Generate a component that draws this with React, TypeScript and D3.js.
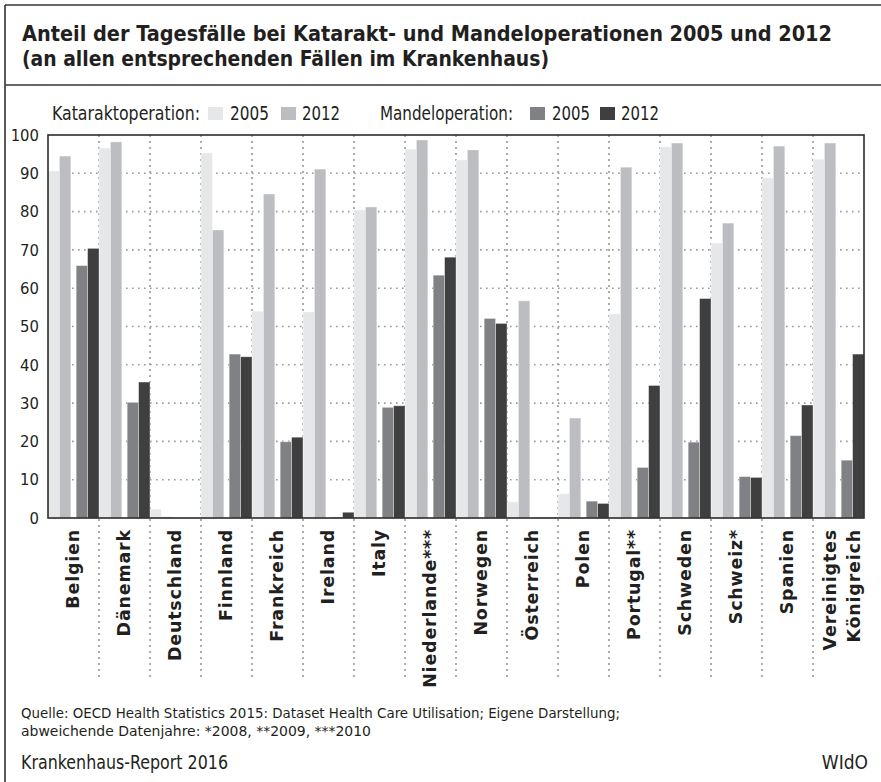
import React from "react";
import * as d3 from "d3";

const W = 881;
const H = 782;

const categories = [
  "Belgien", "Dänemark", "Deutschland", "Finnland", "Frankreich", "Ireland", "Italy",
  "Niederlande***", "Norwegen", "Österreich", "Polen", "Portugal**", "Schweden",
  "Schweiz*", "Spanien", "Vereinigtes Königreich",
];
const kat2005 = [90.6, 96.6, 2.3, 95.3, 54.0, 53.8, 80.4, 96.3, 93.5, 4.2, 6.3, 53.3, 96.9, 71.8, 88.8, 93.7];
const kat2012 = [94.5, 98.2, 0.3, 75.2, 84.6, 91.1, 81.2, 98.7, 96.1, 56.7, 26.1, 91.6, 97.9, 77.0, 97.1, 97.9];
const mandel2005 = [65.9, 30.2, 0, 42.8, 19.9, 0.2, 28.9, 63.4, 52.1, 0.1, 4.4, 13.2, 19.8, 10.8, 21.5, 15.1];
const mandel2012 = [70.4, 35.5, 0, 42.1, 21.1, 1.5, 29.3, 68.1, 50.8, 0.1, 3.8, 34.6, 57.3, 10.6, 29.5, 42.8];
const groups = ["Kataraktoperation", "Mandeloperation"];
const years = ["2005", "2012"];
const yTicks = [0, 10, 20, 30, 40, 50, 60, 70, 80, 90, 100];

const titleLines = [
  "Anteil der Tagesfälle bei Katarakt- und Mandeloperationen 2005 und 2012",
  "(an allen entsprechenden Fällen im Krankenhaus)",
];
const sourceLines = [
  "Quelle: OECD Health Statistics 2015: Dataset Health Care Utilisation; Eigene Darstellung;",
  "abweichende Datenjahre: *2008, **2009, ***2010",
];
const footerLeft = "Krankenhaus-Report 2016";
const footerRight = "WIdO";

const series = [
  { group: groups[0], year: years[0], values: kat2005, color: "#e6e7e8" },
  { group: groups[0], year: years[1], values: kat2012, color: "#bcbdc0" },
  { group: groups[1], year: years[0], values: mandel2005, color: "#808184" },
  { group: groups[1], year: years[1], values: mandel2012, color: "#3f3f3f" },
];

const COND = "'DejaVu Sans Condensed', 'Liberation Sans Narrow', 'DejaVu Sans', sans-serif";
const BOLD = "'DejaVu Sans', 'Open Sans', sans-serif";

export default function App() {
  const plot = { left: 48, right: 864, top: 135, bottom: 518 };
  const x = d3.scaleBand<string>().domain(categories).range([plot.left, plot.right]).padding(0);
  const xg = d3.scaleBand<string>().domain(groups).range([0, x.bandwidth()]).paddingInner(0.19).paddingOuter(0).align(0.65);
  const xy = d3.scaleBand<string>().domain(years).range([0, xg.bandwidth()]).padding(0);
  const y = d3.scaleLinear().domain([0, 100]).range([plot.bottom, plot.top]);

  const legendItems = [
    { type: "text", x: 52, text: "Kataraktoperation:", len: 148 },
    { type: "box", x: 208, color: series[0].color },
    { type: "text", x: 230, text: "2005", len: 39 },
    { type: "box", x: 281, color: series[1].color },
    { type: "text", x: 302, text: "2012", len: 38 },
    { type: "text", x: 380, text: "Mandeloperation:", len: 133 },
    { type: "box", x: 530, color: series[2].color },
    { type: "text", x: 552, text: "2005", len: 38 },
    { type: "box", x: 600, color: series[3].color },
    { type: "text", x: 621, text: "2012", len: 38 },
  ];

  return (
    <svg
      width={W}
      height={H}
      viewBox={`0 0 ${W} ${H}`}
      style={{ position: "absolute", left: 0, top: 0, background: "#fff" }}
    >
      <rect x={0} y={0} width={W} height={H} fill="#fff" />
      {/* outer frame */}
      <line x1={5} y1={5} x2={W} y2={5} stroke="#333" strokeWidth={1.6} />
      <line x1={5} y1={5} x2={5} y2={H} stroke="#333" strokeWidth={1.6} />
      <line x1={5} y1={85} x2={W} y2={85} stroke="#333" strokeWidth={1.6} />

      {/* title */}
      <g fontFamily={COND} fontWeight="bold" fontSize={21} fill="#231f20" style={{ fontStretch: "condensed" }}>
        <text x={22} y={41} textLength={810} lengthAdjust="spacingAndGlyphs">{titleLines[0]}</text>
        <text x={22} y={66} textLength={527} lengthAdjust="spacingAndGlyphs">{titleLines[1]}</text>
      </g>

      {/* legend */}
      <g fontFamily={COND} fontSize={19} fill="#231f20" style={{ fontStretch: "condensed" }}>
        {legendItems.map((it, i) =>
          it.type === "box" ? (
            <rect key={i} x={it.x} y={107} width={15} height={13} fill={it.color} />
          ) : (
            <text key={i} x={it.x} y={120} textLength={it.len} lengthAdjust="spacingAndGlyphs">{it.text}</text>
          )
        )}
      </g>

      {/* horizontal grid */}
      <g stroke="#9a9a9a" strokeWidth={1.6} strokeDasharray="1.6,4.4">
        {yTicks.filter((t) => t > 0 && t < 100).map((t) => (
          <line key={t} x1={plot.left} x2={plot.right} y1={y(t)} y2={y(t)} />
        ))}
      </g>
      {/* vertical dotted separators */}
      <g stroke="#9a9a9a" strokeWidth={1.6} strokeDasharray="2,4">
        {categories.slice(1).map((c) => (
          <line key={c} x1={x(c)!} x2={x(c)!} y1={plot.top} y2={677} />
        ))}
      </g>

      {/* bars */}
      {series.map((s) => (
        <g key={s.group + s.year} fill={s.color}>
          {categories.map((c, i) => {
            const v = s.values[i];
            if (v <= 0) return null;
            const bx = x(c)! + xg(s.group)! + xy(s.year)!;
            return (
              <rect
                key={c}
                x={bx}
                y={y(v)}
                width={xy.bandwidth()}
                height={y(0) - y(v)}
                stroke="rgba(255,255,255,0.45)"
                strokeWidth={0.8}
              />
            );
          })}
        </g>
      ))}

      {/* plot frame */}
      <rect
        x={plot.left}
        y={plot.top}
        width={plot.right - plot.left}
        height={plot.bottom - plot.top}
        fill="none"
        stroke="#2b2b2b"
        strokeWidth={1.6}
      />

      {/* y tick labels */}
      <g fontFamily={COND} fontSize={16.5} fill="#231f20" textAnchor="end" style={{ fontStretch: "condensed" }}>
        {yTicks.map((t) => (
          <text key={t} x={39} y={y(t)} dy="0.35em">{t}</text>
        ))}
      </g>

      {/* x labels */}
      <g fontFamily={BOLD} fontWeight="bold" fontSize={17.5} fill="#231f20" textAnchor="end" letterSpacing={0.8}>
        {categories.map((c) => {
          const cx = x(c)! + x.bandwidth() / 2;
          const lines = c.split(" ");
          return lines.map((ln, j) => {
            const bx = lines.length === 1 ? cx + 5 : cx - 3 + j * 24.5;
            return (
              <text key={c + j} transform={`translate(${bx},529) rotate(-90)`}>{ln}</text>
            );
          });
        })}
      </g>

      {/* source */}
      <g fontFamily={COND} fontSize={14.5} fill="#231f20" style={{ fontStretch: "condensed" }}>
        <text x={21} y={718} textLength={599} lengthAdjust="spacingAndGlyphs">{sourceLines[0]}</text>
        <text x={21} y={736} textLength={350} lengthAdjust="spacingAndGlyphs">{sourceLines[1]}</text>
      </g>
      <g fontFamily={COND} fontSize={19} fill="#231f20" style={{ fontStretch: "condensed" }}>
        <text x={21} y={769} textLength={207} lengthAdjust="spacingAndGlyphs">{footerLeft}</text>
        <text x={868} y={769} textAnchor="end">{footerRight}</text>
      </g>
    </svg>
  );
}
